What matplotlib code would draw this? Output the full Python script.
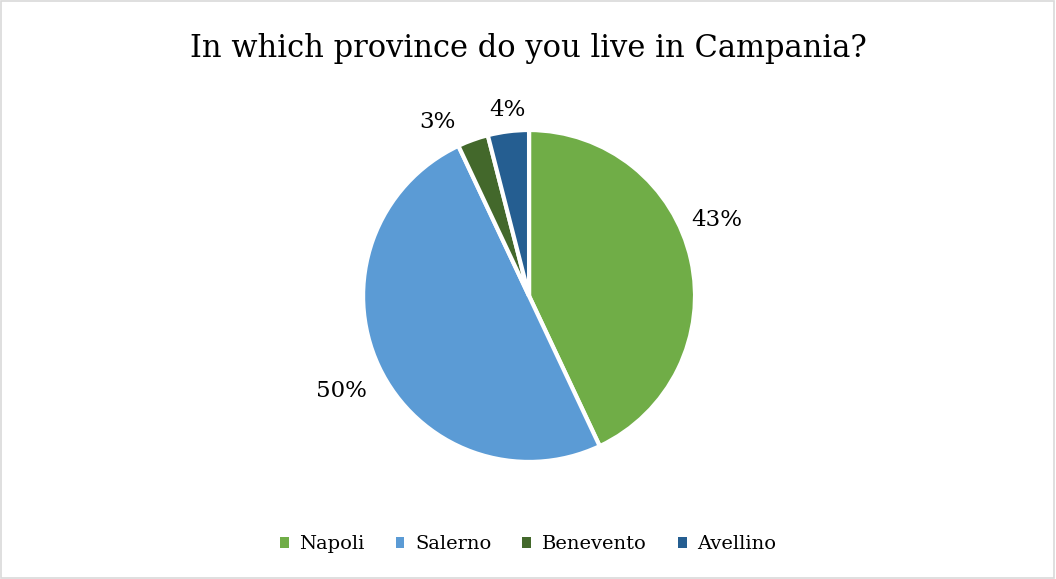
import matplotlib
matplotlib.use("Agg")
import matplotlib.pyplot as plt
from matplotlib.patches import Rectangle

# survey answers, clockwise from 12 o'clock
provinces = ["Napoli", "Salerno", "Benevento", "Avellino"]
shares = [43, 50, 3, 4]
colors = ["#70AD47", "#5B9BD5", "#43682B", "#255E91"]
title = "In which province do you live in Campania?"

plt.rcParams["font.family"] = ["DejaVu Serif"]

fig = plt.figure(figsize=(10.56, 5.79), dpi=100)
fig.patch.set_facecolor("white")

# square axes, pie radius 1 -> ~166 px
ax = fig.add_axes([0.3116, 0.1434, 0.3788, 0.6908])
wedges, _ = ax.pie(
    shares,
    colors=colors,
    startangle=90,
    counterclock=False,
    radius=1.0,
    wedgeprops=dict(edgecolor="white", linewidth=3),
)
ax.set_xlim(-1.205, 1.205)
ax.set_ylim(-1.205, 1.205)
ax.set_aspect("equal")
ax.axis("off")

# data labels (best-fit style placement outside the pie)
label_pos = [(1.13, 0.46), (-1.13, -0.57), (-0.55, 1.05), (-0.13, 1.12)]
for val, (x, y) in zip(shares, label_pos):
    ax.text(x, y, f"{val}%", ha="center", va="center", fontsize=16.5,
            color="#000000", clip_on=False)

fig.text(0.5, 0.917, title, ha="center", va="center", fontsize=22, color="#000000")

leg = fig.legend(
    wedges, provinces,
    loc="center", bbox_to_anchor=(0.5, 0.06),
    ncol=4, frameon=False, fontsize=14,
    handlelength=0.45, handleheight=0.45, handletextpad=0.55, columnspacing=1.6,
)
for h in leg.legend_handles:
    h.set_linewidth(0)

fig.patches.append(Rectangle((0.001, 0.002), 0.997, 0.996, transform=fig.transFigure,
                             fill=False, edgecolor="#D9D9D9", linewidth=1.2))

fig.savefig("out.png", dpi=100)
